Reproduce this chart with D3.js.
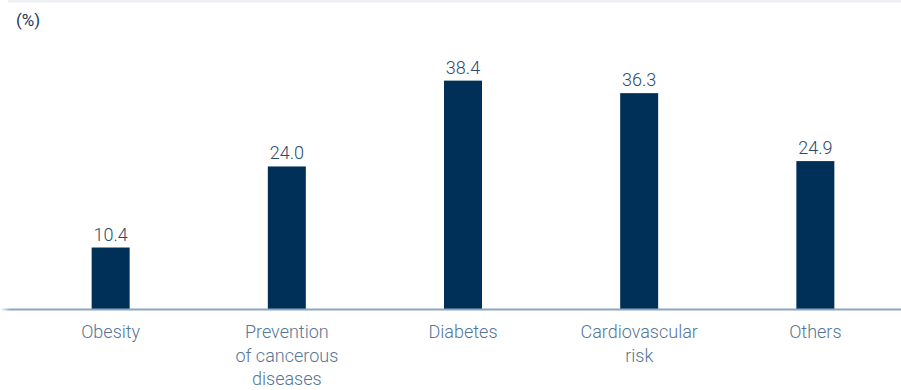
<!DOCTYPE html>
<html>
<head>
<meta charset="utf-8">
<script src="https://cdn.jsdelivr.net/npm/d3@7"></script>
<style>
  html, body { margin: 0; padding: 0; background: #fff; }
  svg { display: block; font-family: Roboto, "Liberation Sans", Arial, sans-serif; font-weight: 300; }
</style>
</head>
<body>
<svg id="chart" width="901" height="390"></svg>
<script>
// Share of respondents by health purpose (%)
const categories = ["Obesity", "Prevention of cancerous diseases", "Diabetes", "Cardiovascular risk", "Others"];
const categoryLines = [["Obesity"], ["Prevention", "of cancerous", "diseases"], ["Diabetes"], ["Cardiovascular", "risk"], ["Others"]];
const values = [10.4, 24.0, 38.4, 36.3, 24.9];
const unitLabel = "(%)";

const svg = d3.select("#chart");
const W = 901, H = 390;
const baseY = 309.5;

const x = d3.scaleBand().domain(categories).range([23, 903]).paddingInner(0.785).paddingOuter(0.39);
const y = d3.scaleLinear().domain([0, 40]).range([baseY, baseY - 40 * 5.96]);

// gradient for the faded start of the base line
const defs = svg.append("defs");
const grad = defs.append("linearGradient").attr("id", "fadeIn").attr("x1", "0").attr("x2", "1");
grad.append("stop").attr("offset", "0").attr("stop-color", "#8ea6bd").attr("stop-opacity", 0);
grad.append("stop").attr("offset", "1").attr("stop-color", "#8ea6bd").attr("stop-opacity", 1);

// top rule
svg.append("rect").attr("x", 8).attr("y", 0).attr("width", W - 8).attr("height", 2.5).attr("fill", "#eef0f3");

// unit label
svg.append("text").attr("x", 16).attr("y", 26).attr("font-size", 17).attr("font-weight", 400)
  .attr("fill", "#1e3a5c").text(unitLabel);

// bars
const bw = 38;
svg.selectAll("rect.bar").data(values).join("rect")
  .attr("class", "bar")
  .attr("x", (d, i) => x(categories[i]) + x.bandwidth() / 2 - bw / 2)
  .attr("y", d => y(d))
  .attr("width", bw)
  .attr("height", d => baseY - y(d))
  .attr("fill", "#003057");

// value labels
svg.selectAll("text.val").data(values).join("text")
  .attr("class", "val")
  .attr("x", (d, i) => x(categories[i]) + x.bandwidth() / 2)
  .attr("y", d => y(d) - 7)
  .attr("text-anchor", "middle")
  .attr("font-size", 18)
  .attr("fill", "#2a4b6e")
  .text(d => d.toFixed(1));

// base line
svg.append("rect").attr("x", 0).attr("y", baseY - 1).attr("width", 10).attr("height", 2).attr("fill", "url(#fadeIn)");
svg.append("rect").attr("x", 10).attr("y", baseY - 1).attr("width", W - 10).attr("height", 2).attr("fill", "#8ea6bd");

// category labels
const cat = svg.selectAll("text.cat").data(categoryLines).join("text")
  .attr("class", "cat")
  .attr("text-anchor", "middle")
  .attr("font-size", 18)
  .attr("fill", "#557596")
  .attr("transform", (d, i) => `translate(${x(categories[i]) + x.bandwidth() / 2},338)`);
cat.selectAll("tspan").data(d => d).join("tspan")
  .attr("x", 0)
  .attr("y", (d, j) => j * 23.5)
  .text(d => d);
</script>
</body>
</html>
